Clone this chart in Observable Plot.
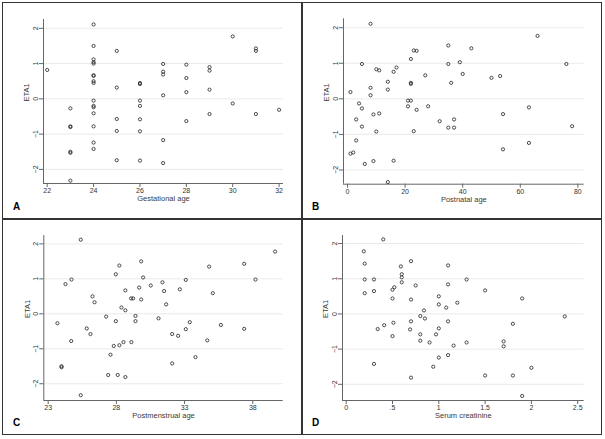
<!DOCTYPE html>
<html><head><meta charset="utf-8">
<script src="https://cdn.jsdelivr.net/npm/d3@7"></script>
<script src="https://cdn.jsdelivr.net/npm/@observablehq/plot@0.6"></script>
<style>
body{margin:0;background:#fff;font-family:"Liberation Sans",Arial,sans-serif}
#wrap{position:relative;width:605px;height:439px;overflow:hidden;background:#fff}
.line{position:absolute;background:#333}
.pane{position:absolute}
.tag{position:absolute;font:bold 10px "Liberation Sans",Arial,sans-serif;color:#000;line-height:1}
</style></head><body><div id="wrap"></div><script>
// ---- Panel A: Gestational age ----
const gestAge = [22,
 23,23,23,23,23,23,
 24,24,24,24,24,24,24,24,24,24,24,24,24,24,24,24,
 25,25,25,25,25,
 26,26,26,26,26,26,26,
 27,27,27,27,27,27,
 28,28,28,28,
 29,29,29,29,
 30,30,
 31,31,31,
 32];
const etaA = [0.82,
 -0.27,-0.78,-0.80,-1.50,-1.53,-2.32,
 2.11,1.50,1.12,1.04,1.00,0.67,0.65,0.50,0.45,-0.05,-0.20,-0.24,-0.41,-0.78,-1.24,-1.42,
 1.36,0.32,-0.57,-0.91,-1.74,
 0.45,0.42,-0.05,-0.20,-0.58,-0.92,-1.75,
 0.99,0.77,0.69,0.10,-1.17,-1.82,
 0.97,0.59,0.19,-0.63,
 0.90,0.80,0.26,-0.43,
 1.77,-0.13,
 1.43,1.36,-0.43,
 -0.31];
const gestTicks = [22,24,26,28,30,32];

// ---- Panel B: Postnatal age ----
const postnatal = [8,66,35,43,23,24,22,5,35,76,39,17,10,11,16,40,27,53,50,14,36,22,22,8,14,1,8,21,22,4,21,5,24,28,63,11,9,54,3,32,37,5,35,37,78,10,23,3,63,54,1,2,6,9,16,14];
const etaB = [2.11,1.77,1.50,1.42,1.36,1.35,1.12,0.98,0.98,0.98,1.03,0.88,0.83,0.80,0.76,0.70,0.66,0.64,0.59,0.48,0.45,0.45,0.42,0.31,0.26,0.19,0.10,-0.05,-0.05,-0.13,-0.21,-0.27,-0.31,-0.21,-0.24,-0.41,-0.44,-0.43,-0.58,-0.63,-0.58,-0.78,-0.81,-0.81,-0.77,-0.92,-0.91,-1.17,-1.24,-1.42,-1.54,-1.51,-1.83,-1.75,-1.74,-2.34];
const pnaTicks = [0,20,40,60,80];

// ---- Panel C: Postmenstrual age ----
const pma = [25.39,39.64,29.82,37.37,28.22,34.8,27.96,29.96,24.27,24.71,33.09,38.2,31.38,30.52,29.67,31.5,28.66,32.65,35.07,26.25,26.4,29.08,29.23,29.82,31.65,28.37,28.66,27.25,29.4,31.09,23.68,27.96,29.4,33.38,35.66,25.83,33.09,37.37,26.1,32.09,32.53,24.69,34.66,28.52,29.1,27.81,28.22,27.57,33.8,32.09,23.98,23.98,27.4,28.1,28.66,25.39];
const etaC = [2.12,1.78,1.50,1.43,1.38,1.35,1.13,1.04,0.85,0.98,0.97,0.98,0.90,0.81,0.75,0.65,0.67,0.70,0.59,0.50,0.33,0.44,0.44,0.41,0.27,0.18,0.10,-0.08,-0.06,-0.13,-0.27,-0.21,-0.21,-0.24,-0.32,-0.42,-0.44,-0.43,-0.58,-0.58,-0.63,-0.78,-0.76,-0.81,-0.81,-0.92,-0.90,-1.17,-1.24,-1.42,-1.50,-1.53,-1.75,-1.75,-1.81,-2.33];
const pmaTicks = [23,28,33,38];

// ---- Panel D: Serum creatinine ----
const scr = [0.4,0.19,0.2,0.7,0.59,1.1,0.6,0.6,0.2,0.3,1.3,0.6,0.75,1.1,0.52,0.5,0.2,0.3,1.5,1.0,0.5,0.7,1.9,1.2,1.0,1.08,0.84,0.8,2.36,0.85,0.7,1.1,0.51,1.8,0.41,0.34,0.69,1.0,0.8,0.97,0.5,0.8,1.7,0.9,1.3,1.7,1.16,1.1,1.0,0.3,0.94,2.0,0.7,1.5,1.8,1.9];
const etaD = [2.12,1.78,1.43,1.50,1.35,1.38,1.13,1.04,0.98,0.98,0.98,0.90,0.81,0.84,0.76,0.69,0.59,0.65,0.67,0.50,0.44,0.41,0.44,0.32,0.27,0.18,0.10,-0.06,-0.07,-0.13,-0.21,-0.21,-0.25,-0.28,-0.32,-0.43,-0.44,-0.41,-0.58,-0.58,-0.63,-0.76,-0.78,-0.81,-0.81,-0.92,-0.90,-1.17,-1.24,-1.42,-1.50,-1.53,-1.81,-1.75,-1.75,-2.33];
const scrTicks = [0,0.5,1,1.5,2,2.5];
const scrTickLabels = ["0",".5","1","1.5","2","2.5"];

const etaTicks = [-2,-1,0,1,2];
const etaLabel = "ETA1";
const panelTags = ["A","B","C","D"];
const xLabels = ["Gestational age","Postnatal age","Postmenstrual age","Serum creatinine"];

const wrap = document.getElementById("wrap");
function addLine(l,t,w,h){const d=document.createElement("div");d.className="line";Object.assign(d.style,{left:l+"px",top:t+"px",width:w+"px",height:h+"px"});wrap.appendChild(d);}

function panel(o){
  const data = o.x.map((v,i)=>({x:v,y:o.y[i]}));
  const svg = Plot.plot({
    width:o.w, height:o.h,
    marginLeft:o.m[0], marginRight:o.m[1], marginTop:o.m[2], marginBottom:o.m[3],
    style:{background:"#fff",fontFamily:"'Liberation Sans', Arial, sans-serif",fontSize:"7px",color:"#333",overflow:"visible"},
    x:{domain:o.xDomain}, y:{domain:o.yDomain},
    marks:[
      Plot.gridY(etaTicks,{stroke:"#e4e4e4",strokeOpacity:1,strokeWidth:0.8}),
      Plot.ruleX([o.xDomain[0]],{stroke:"#666",strokeWidth:1}),
      Plot.ruleY([o.yDomain[0]],{stroke:"#666",strokeWidth:1}),
      Plot.axisX(o.xTicks,{tickSize:4,tickPadding:1,tickFormat:o.fmt,label:null,stroke:"#666"}),
      Plot.axisY(etaTicks,{tickSize:4,tickPadding:1.5,tickRotate:-90,label:null,stroke:"#666",tickFormat:d=>d<0?"\u2212"+Math.abs(d):String(d)}),
      Plot.dot(data,{x:"x",y:"y",r:1.6,stroke:"#222",strokeWidth:0.8}),
      Plot.text([o.xLabel],{frameAnchor:"bottom",dy:17.5,fontSize:7.5,fill:"#3a3a3a"}),
      Plot.text([etaLabel],{frameAnchor:"left",dx:-16.5,rotate:-90,fontSize:7.5,fill:"#3a3a3a"})
    ]
  });
  const div=document.createElement("div");div.className="pane";
  div.style.left=o.left+"px";div.style.top=o.top+"px";
  div.appendChild(svg);wrap.appendChild(div);
  const t=document.createElement("div");t.className="tag";t.textContent=o.tag;
  t.style.left=(o.left+o.tagX)+"px";t.style.top=(o.top+o.tagY)+"px";wrap.appendChild(t);
}

panel({x:gestAge,y:etaA,xDomain:[21.84,32.19],yDomain:[-2.4,2.25],xTicks:gestTicks,fmt:d=>String(d),xLabel:xLabels[0],
  left:3,top:3,w:299,h:216,m:[40,19,16,36],tag:panelTags[0],tagX:10,tagY:199});
panel({x:postnatal,y:etaB,xDomain:[-1.4,82.2],yDomain:[-2.4,2.25],xTicks:pnaTicks,fmt:d=>String(d),xLabel:xLabels[1],
  left:302,top:3,w:299,h:216,m:[41,17.3,15.3,35.3],tag:panelTags[1],tagX:10,tagY:199});
panel({x:pma,y:etaC,xDomain:[22.68,40.23],yDomain:[-2.48,2.24],xTicks:pmaTicks,fmt:d=>String(d),xLabel:xLabels[2],
  left:3,top:219,w:299,h:215,m:[40.3,19.3,16,34],tag:panelTags[2],tagX:10,tagY:199});
panel({x:scr,y:etaD,xDomain:[-0.04,2.57],yDomain:[-2.46,2.23],xTicks:scrTicks,fmt:d=>scrTickLabels[scrTicks.indexOf(d)],xLabel:xLabels[3],
  left:302,top:219,w:299,h:215,m:[40,17.3,16,34],tag:panelTags[3],tagX:10,tagY:199});

// frame lines
addLine(2,2,600,1.4); addLine(2,433.6,600,1.4);
addLine(2,2,1.4,433); addLine(600.6,2,1.4,433);
addLine(301.3,2,1.4,433); addLine(2,218.3,600,1.4);
</script></body></html>
